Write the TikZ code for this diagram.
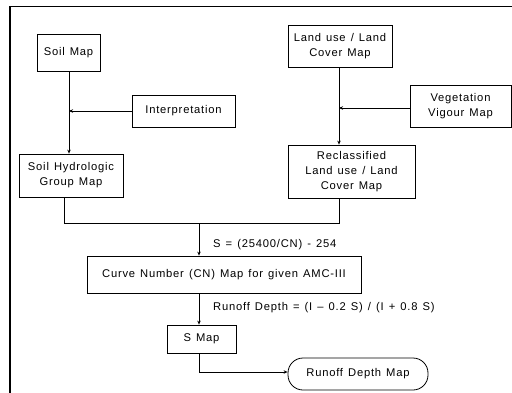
\documentclass[tikz,border=0pt]{standalone}
\usepackage{fontspec}
\setmainfont[LetterSpace=7,WordSpace=1.3]{Liberation Sans}
\usetikzlibrary{arrows.meta}
\begin{document}
\begin{tikzpicture}[x=1pt,y=-1pt,
  box/.style={draw=black,line width=0.8pt,inner sep=0pt,align=center,font=\fontsize{11.2}{15}\selectfont},
  conn/.style={line width=0.8pt,draw=black},
  arr/.style={conn,-{Stealth[length=4pt,width=3.5pt]}},
  lbl/.style={anchor=west,inner sep=0pt,font=\fontsize{11.2}{15}\selectfont}]
\useasboundingbox (0,0) rectangle (512,392);
\draw[line width=1.8pt] (10,393) -- (10,6.5) -- (513,6.5);
% nodes
\node[box,minimum width=63,minimum height=37] (soil) at (68.5,52.5) {Soil Map};
\node[box,minimum width=103,minimum height=32] (interp) at (183.5,111) {Interpretation};
\node[box,minimum width=104,minimum height=43] (shg) at (71,175.5) {Soil Hydrologic\\Group Map};
\node[box,minimum width=104,minimum height=42] (land) at (340,46) {Land use / Land\\Cover Map};
\node[box,minimum width=101,minimum height=42] (veg) at (460.5,106) {Vegetation\\Vigour Map};
\node[box,minimum width=127,minimum height=53] (recl) at (351.5,171.5) {Reclassified\\Land use / Land\\Cover Map};
\node[box,minimum width=274,minimum height=37] (cn) at (224,274.5) {Curve Number (CN) Map for given AMC-III};
\node[box,minimum width=69,minimum height=28] (smap) at (201.5,339) {S Map};
\node[box,minimum width=140,minimum height=32,rounded corners=15pt] (rdm) at (358,374) {Runoff Depth Map};
\node[lbl] (l1) at (213,245) {S = (25400/CN) - 254};
\node[lbl] (l2) at (213,308) {Runoff Depth = (I -- 0.2 S) / (I + 0.8 S)};
% coordinates
\coordinate (sx) at (69,0);
\coordinate (lx) at (339,0);
\coordinate (hx) at (64,0);
\coordinate (jx) at (199,0);
\coordinate (my) at (0,223);
\coordinate (ry) at (0,372);
% connectors
\draw[arr] (soil.south -| sx) -- (shg.north -| sx);
\draw[arr] (interp.west) -- (interp.west -| sx);
\draw[arr] (land.south -| lx) -- (recl.north -| lx);
\draw[arr] (veg.west |- 0,108) -- (lx |- 0,108);
\draw[conn] (shg.south -| hx) -- (hx |- my) -- (lx |- my) -- (recl.south -| lx);
\draw[arr] (jx |- my) -- (cn.north -| jx);
\draw[arr] (cn.south -| jx) -- (smap.north -| jx);
\draw[arr] (smap.south -| jx) -- (jx |- ry) -- (rdm.west |- ry);
\end{tikzpicture}
\end{document}
